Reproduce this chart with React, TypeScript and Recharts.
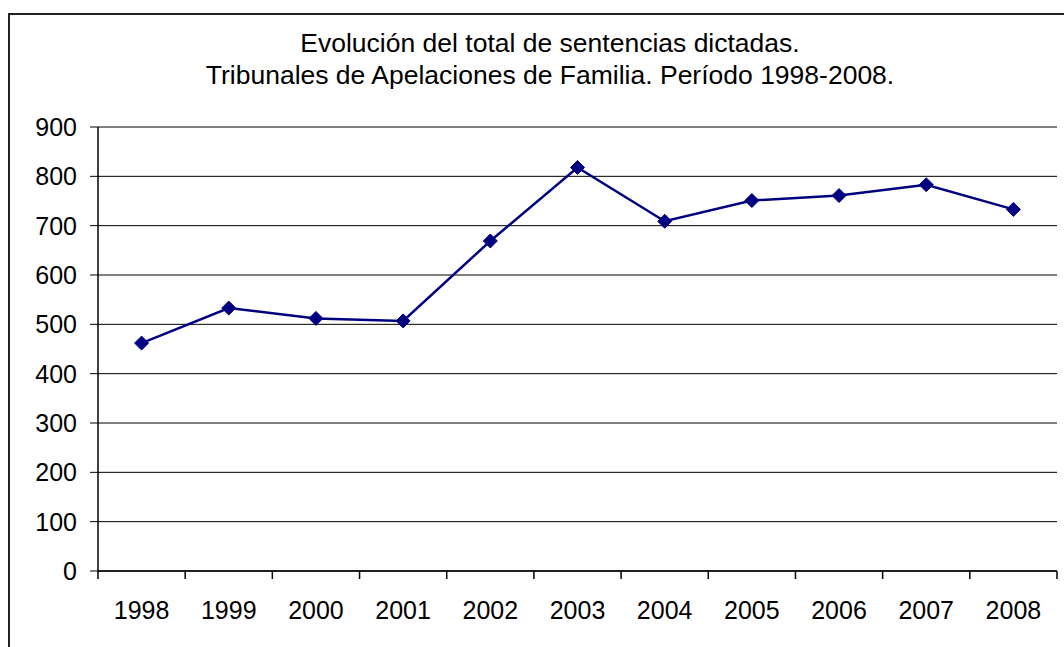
import { LineChart, Line, XAxis, YAxis, CartesianGrid } from "recharts";

const years = ["1998", "1999", "2000", "2001", "2002", "2003", "2004", "2005", "2006", "2007", "2008"];
const sentencias = [462, 533, 512, 507, 669, 818, 709, 751, 761, 783, 733];
const yTicks = [0, 100, 200, 300, 400, 500, 600, 700, 800, 900];
const titleLines = [
  "Evolución del total de sentencias dictadas.",
  "Tribunales de Apelaciones de Familia. Período 1998-2008.",
];

const data = years.map((year, i) => ({ year, value: sentencias[i] }));

const W = 1064;
const H = 647;
const margin = { top: 127, right: 7, bottom: 16, left: 0 };
const yAxisWidth = 98;
const plotWidth = W - margin.left - margin.right - yAxisWidth;
const halfBand = plotWidth / years.length / 2;
const FONT = "'Liberation Sans', Arial, sans-serif";
const NAVY = "#000080";

const Diamond = (props: any) => {
  const { cx, cy } = props;
  if (cx == null || cy == null) return null;
  const r = 7;
  return (
    <path
      d={`M${cx},${cy - r} L${cx + r},${cy} L${cx},${cy + r} L${cx - r},${cy} Z`}
      fill={NAVY}
      stroke={NAVY}
      strokeWidth={1}
    />
  );
};

const YearTick = (props: any) => {
  const { x, y, payload, index } = props;
  const last = index === years.length - 1;
  return (
    <g>
      <line x1={x - halfBand} y1={y} x2={x - halfBand} y2={y + 8} stroke="#000" strokeWidth={1.5} />
      {last && <line x1={x + halfBand} y1={y} x2={x + halfBand} y2={y + 8} stroke="#000" strokeWidth={1.5} />}
      <text x={x} y={y + 48} textAnchor="middle" fill="#000" fontSize={25} fontFamily={FONT}>
        {payload.value}
      </text>
    </g>
  );
};

export default function App() {
  return (
    <div style={{ position: "absolute", left: 0, top: 0, width: W, height: H, overflow: "hidden", background: "#fff" }}>
      <div
        style={{
          position: "absolute",
          left: 8,
          top: 13,
          width: W + 20,
          height: H + 20,
          borderLeft: "2px solid #222",
          borderTop: "2px solid #222",
        }}
      />
      <svg width={W} height={120} style={{ position: "absolute", left: 0, top: 0 }}>
        {titleLines.map((t, i) => (
          <text key={i} x={550} y={52 + i * 32} textAnchor="middle" fontSize={26.5} fontFamily={FONT} fill="#000">
            {t}
          </text>
        ))}
      </svg>
      <div style={{ position: "absolute", left: 0, top: 0 }}>
        <LineChart width={W} height={H} data={data} margin={margin}>
          <CartesianGrid vertical={false} stroke="#000" strokeWidth={1} />
          <XAxis
            dataKey="year"
            padding={{ left: halfBand, right: halfBand }}
            tickLine={false}
            tickSize={0}
            tickMargin={0}
            height={60}
            interval={0}
            axisLine={{ stroke: "#000", strokeWidth: 1.5 }}
            tick={<YearTick />}
          />
          <XAxis
            xAxisId="top"
            dataKey="year"
            orientation="top"
            height={0}
            tick={false}
            tickLine={false}
            axisLine={{ stroke: "#888", strokeWidth: 2.5 }}
          />
          <YAxis
            domain={[0, 900]}
            ticks={yTicks}
            width={yAxisWidth}
            tickSize={8}
            tickMargin={13}
            interval={0}
            axisLine={{ stroke: "#000", strokeWidth: 1.5 }}
            tickLine={{ stroke: "#000", strokeWidth: 1 }}
            tick={{ fill: "#000", fontSize: 25, fontFamily: FONT }}
          />
          <YAxis
            yAxisId="right"
            orientation="right"
            domain={[0, 900]}
            width={0}
            tick={false}
            tickLine={false}
            axisLine={{ stroke: "#888", strokeWidth: 2.5 }}
          />
          <Line
            dataKey="value"
            stroke={NAVY}
            strokeWidth={2.5}
            dot={<Diamond />}
            activeDot={false}
            isAnimationActive={false}
          />
        </LineChart>
      </div>
    </div>
  );
}
